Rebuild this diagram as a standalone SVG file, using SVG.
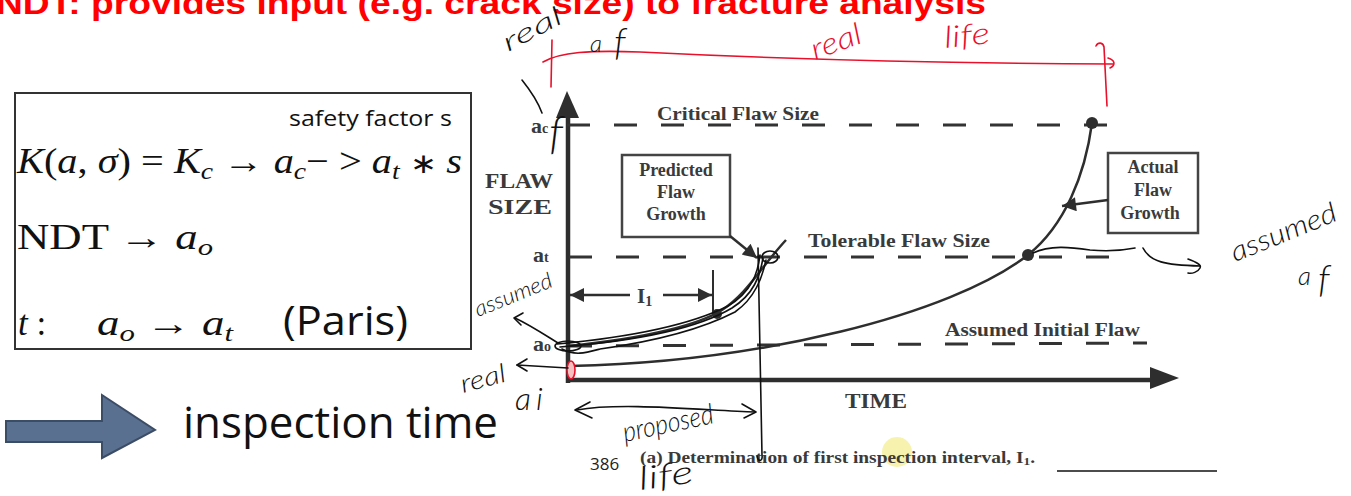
<svg xmlns="http://www.w3.org/2000/svg" width="1351" height="496" viewBox="0 0 1351 496">
<defs>
<style>
.fig{stroke:#2e2e2e;fill:none;stroke-width:2.5}
.lbl{font-family:"Liberation Serif",serif;font-weight:bold;fill:#3a3a3a}
.dash{stroke:#333;stroke-width:3;stroke-dasharray:23 24;fill:none}
.hand{font-family:"Lato","DejaVu Sans",sans-serif;font-weight:300;font-style:italic;fill:#111}
.rhand{font-family:"Lato","DejaVu Sans",sans-serif;font-weight:300;font-style:italic;fill:#e8102a}
.ink{stroke:#111;stroke-width:1.6;fill:none;stroke-linecap:round;stroke-linejoin:round}
.red{stroke:#e8102a;stroke-width:1.6;fill:none;stroke-linecap:round}
.math{font-family:"Liberation Serif",serif;fill:#111}
.it{font-style:italic}
.sans{font-family:"Open Sans","Liberation Sans",sans-serif;fill:#111}
.dot{fill:#2e2e2e}
</style>
<marker id="ah" viewBox="0 0 10 10" refX="10" refY="5" markerWidth="18" markerHeight="14" markerUnits="userSpaceOnUse" orient="auto-start-reverse"><path d="M0,0 L10,5 L0,10 Z" fill="#2e2e2e"/></marker>
</defs>
<rect width="1351" height="496" fill="#fff"/>

<g id="title">
<text x="-4" y="14" font-family="'Liberation Sans',sans-serif" font-weight="bold" font-size="32" fill="#ff0000" textLength="990" lengthAdjust="spacingAndGlyphs">NDT: provides input (e.g. crack size) to fracture analysis</text>
</g>

<g id="formula-box">
<rect x="15" y="93" width="456" height="256" fill="none" stroke="#333" stroke-width="2"/>
<text class="sans" x="289" y="126" font-size="22" textLength="163" lengthAdjust="spacingAndGlyphs">safety factor s</text>
<text class="math" y="173" font-size="35" textLength="445" lengthAdjust="spacingAndGlyphs"><tspan x="17" class="it">K</tspan>(<tspan class="it">a</tspan>, <tspan class="it">σ</tspan>) = <tspan class="it">K</tspan><tspan class="it" font-size="24" dy="6">c</tspan><tspan dy="-6"> → </tspan><tspan class="it">a</tspan><tspan class="it" font-size="24" dy="6">c</tspan><tspan dy="-6">− &gt; </tspan><tspan class="it">a</tspan><tspan class="it" font-size="24" dy="6">t</tspan><tspan dy="-6"> </tspan><tspan font-size="28">∗</tspan><tspan> </tspan><tspan class="it">s</tspan></text>
<text class="math" y="249" font-size="35" textLength="196" lengthAdjust="spacingAndGlyphs"><tspan x="17">NDT → </tspan><tspan class="it">a</tspan><tspan class="it" font-size="24" dy="6">o</tspan></text>
<text class="math" y="335" font-size="35"><tspan x="18" class="it">t</tspan><tspan> :</tspan></text>
<text class="math" y="335" font-size="35" textLength="136" lengthAdjust="spacingAndGlyphs"><tspan x="97" class="it">a</tspan><tspan class="it" font-size="24" dy="6">o</tspan><tspan dy="-6"> → </tspan><tspan class="it">a</tspan><tspan class="it" font-size="24" dy="6">t</tspan></text>
<text class="sans" x="283" y="335" font-size="40" textLength="125" lengthAdjust="spacingAndGlyphs">(Paris)</text>
</g>

<g id="inspection-arrow">
<path d="M6,421 L102,421 L102,395 L155,430 L102,458 L102,442 L6,442 Z" fill="#5a7090" stroke="#3b4d66" stroke-width="2"/>
<text class="sans" x="183" y="438" font-size="44" textLength="315" lengthAdjust="spacingAndGlyphs">inspection time</text>
</g>

<g id="chart">
<line x1="568" y1="112" x2="568" y2="383" stroke="#2e2e2e" stroke-width="4.5"/>
<polygon points="567,91 556,118 579,118" fill="#2e2e2e"/>
<line x1="566" y1="380" x2="1155" y2="380" stroke="#2e2e2e" stroke-width="4.5"/>
<polygon points="1179,378 1150,367 1150,389" fill="#2e2e2e"/>
<path class="dash" d="M567,125 H1110"/>
<path class="dash" d="M569,257 H1115"/>
<path class="dash" d="M569,346 L1147,343"/>
<text class="lbl" x="657" y="120" font-size="18" textLength="162" lengthAdjust="spacingAndGlyphs">Critical Flaw Size</text>
<text class="lbl" x="808" y="247" font-size="18" textLength="182" lengthAdjust="spacingAndGlyphs">Tolerable Flaw Size</text>
<text class="lbl" x="945" y="336" font-size="18" textLength="195" lengthAdjust="spacingAndGlyphs">Assumed Initial Flaw</text>
<text class="lbl" x="485" y="188" font-size="22" textLength="68" lengthAdjust="spacingAndGlyphs">FLAW</text>
<text class="lbl" x="488" y="214" font-size="22" textLength="64" lengthAdjust="spacingAndGlyphs">SIZE</text>
<text class="lbl" x="845" y="408" font-size="21" textLength="62" lengthAdjust="spacingAndGlyphs">TIME</text>
<text class="lbl" x="531" y="133" font-size="22">a<tspan font-size="14">c</tspan></text>
<text class="lbl" x="533" y="262" font-size="22">a<tspan font-size="14">t</tspan></text>
<text class="lbl" x="533" y="351" font-size="22">a<tspan font-size="14">o</tspan></text>
<path class="fig" d="M570,366 C760,362 950,315 1028,255 C1065,225 1085,175 1092,123"/>
<path class="fig" d="M568,346 C650,338 700,324 722,310 C748,293 760,268 786,240"/>
<circle class="dot" cx="717" cy="314" r="5"/>
<circle class="dot" cx="1028" cy="255" r="6"/>
<circle class="dot" cx="1092" cy="123" r="6"/>
<line x1="713" y1="270" x2="713" y2="316" stroke="#2e2e2e" stroke-width="2"/>
<text class="lbl" x="637" y="303" font-size="21">I<tspan font-size="14" dy="3">1</tspan></text>
<text x="590" y="470" font-family="'Open Sans','Liberation Sans',sans-serif" font-size="17" fill="#222">386</text>
<circle cx="897" cy="452" r="15" fill="#f6f1a0" opacity="0.85"/>
<text class="lbl" x="640" y="463" font-size="16" textLength="395" lengthAdjust="spacingAndGlyphs">(a)  Determination of first inspection interval, I<tspan font-size="11" dy="2">1</tspan><tspan dy="-2">.</tspan></text>
<line x1="1057" y1="471" x2="1217" y2="471" stroke="#111" stroke-width="1.5"/>
</g>

<g id="predicted-box">
<rect x="622" y="155" width="108" height="82" fill="#fff" stroke="#444" stroke-width="2.5"/>
<text class="lbl" x="676" y="176" font-size="18" text-anchor="middle">Predicted</text>
<text class="lbl" x="676" y="198" font-size="18" text-anchor="middle">Flaw</text>
<text class="lbl" x="676" y="220" font-size="18" text-anchor="middle">Growth</text>
</g>

<g id="actual-box">
<rect x="1108" y="153" width="90" height="80" fill="#fff" stroke="#444" stroke-width="2.5"/>
<text class="lbl" x="1153" y="173" font-size="18" text-anchor="middle">Actual</text>
<text class="lbl" x="1153" y="196" font-size="18" text-anchor="middle">Flaw</text>
<text class="lbl" x="1150" y="219" font-size="18" text-anchor="middle">Growth</text>
</g>

<g id="connectors">
<path d="M730,236 L757,258" stroke="#2e2e2e" stroke-width="2.5" fill="none" marker-end="url(#ah)"/>
<path d="M1108,200 L1062,206" stroke="#2e2e2e" stroke-width="2.5" fill="none" marker-end="url(#ah)"/>
<path d="M630,295 L570,295" stroke="#2e2e2e" stroke-width="2.5" fill="none" marker-end="url(#ah)"/>
<path d="M663,295 L712,295" stroke="#2e2e2e" stroke-width="2.5" fill="none" marker-end="url(#ah)"/>
</g>

<g id="annotations">
<path class="red" d="M543,62 C560,52 590,50 640,52 C760,58 900,63 1113,64"/>
<path class="red" d="M1108,58 C1115,60 1116,65 1110,68"/>
<path class="red" d="M552,40 L551,87"/>
<path class="red" d="M1096,46 C1098,42 1103,42 1104,47 L1107,106"/>
<text class="rhand" font-size="30" transform="translate(815,60) rotate(-20)" textLength="52" lengthAdjust="spacingAndGlyphs">real</text>
<text class="rhand" font-size="30" transform="translate(945,48) rotate(-6)" textLength="46" lengthAdjust="spacingAndGlyphs">life</text>
<ellipse cx="571" cy="370" rx="4" ry="9" fill="#f7c0c0" stroke="#e8102a" stroke-width="1.6"/>

<text class="hand" font-size="26" transform="translate(508,52) rotate(-28)" textLength="64" lengthAdjust="spacingAndGlyphs">real</text>
<text class="hand" x="590" y="52" font-size="24">a</text>
<text class="hand" x="614" y="55" font-size="38">f</text>
<path class="ink" d="M522,80 C530,90 538,102 542,113"/>
<text class="hand" x="549" y="148" font-size="46">f</text>

<ellipse class="ink" cx="568" cy="346" rx="13" ry="5"/>
<path class="ink" d="M557,344 C600,340 680,330 728,306 C752,292 758,272 760,255"/>
<path class="ink" d="M560,347 C610,343 690,333 732,308 C754,294 760,276 763,258"/>
<path class="ink" d="M562,349 C575,356 585,353 600,349 C650,342 700,330 735,312 C755,298 762,278 766,260"/>
<ellipse class="ink" cx="770" cy="257" rx="8" ry="6"/>
<path class="ink" d="M758,248 L762,455 C763,462 758,462 757,456"/>
<path class="ink" d="M558,343 C545,335 530,325 515,318"/>
<path class="ink" d="M523,313 L514,318 L521,325"/>
<text class="hand" font-size="22" transform="translate(478,317) rotate(-22)" textLength="82" lengthAdjust="spacingAndGlyphs">assumed</text>
<path class="ink" d="M568,368 L517,365"/>
<path class="ink" d="M527,359 L517,365 L527,371"/>
<text class="hand" font-size="26" transform="translate(463,393) rotate(-15)" textLength="46" lengthAdjust="spacingAndGlyphs">real</text>
<text class="hand" x="515" y="410" font-size="32">a<tspan dx="5">i</tspan></text>
<path class="ink" d="M577,410 C620,402 700,410 755,412"/>
<path class="ink" d="M590,402 L575,410 L592,418"/>
<path class="ink" d="M742,404 L756,412 L744,418"/>
<text class="hand" font-size="28" transform="translate(625,442) rotate(-12)" textLength="92" lengthAdjust="spacingAndGlyphs">proposed</text>
<text class="hand" font-size="32" transform="translate(640,490) rotate(-8)" textLength="55" lengthAdjust="spacingAndGlyphs">life</text>

<path class="ink" d="M1033,253 C1050,245 1070,247 1090,250 C1110,252 1125,250 1135,248"/>
<path class="ink" d="M1143,248 C1150,262 1165,265 1200,266"/>
<path class="ink" d="M1188,259 C1196,262 1202,265 1200,268 C1198,272 1192,274 1188,273"/>
<text class="hand" font-size="28" transform="translate(1235,262) rotate(-22)" textLength="112" lengthAdjust="spacingAndGlyphs">assumed</text>
<text class="hand" x="1298" y="285" font-size="26">a</text>
<text class="hand" x="1318" y="292" font-size="38">f</text>
</g>
</svg>
